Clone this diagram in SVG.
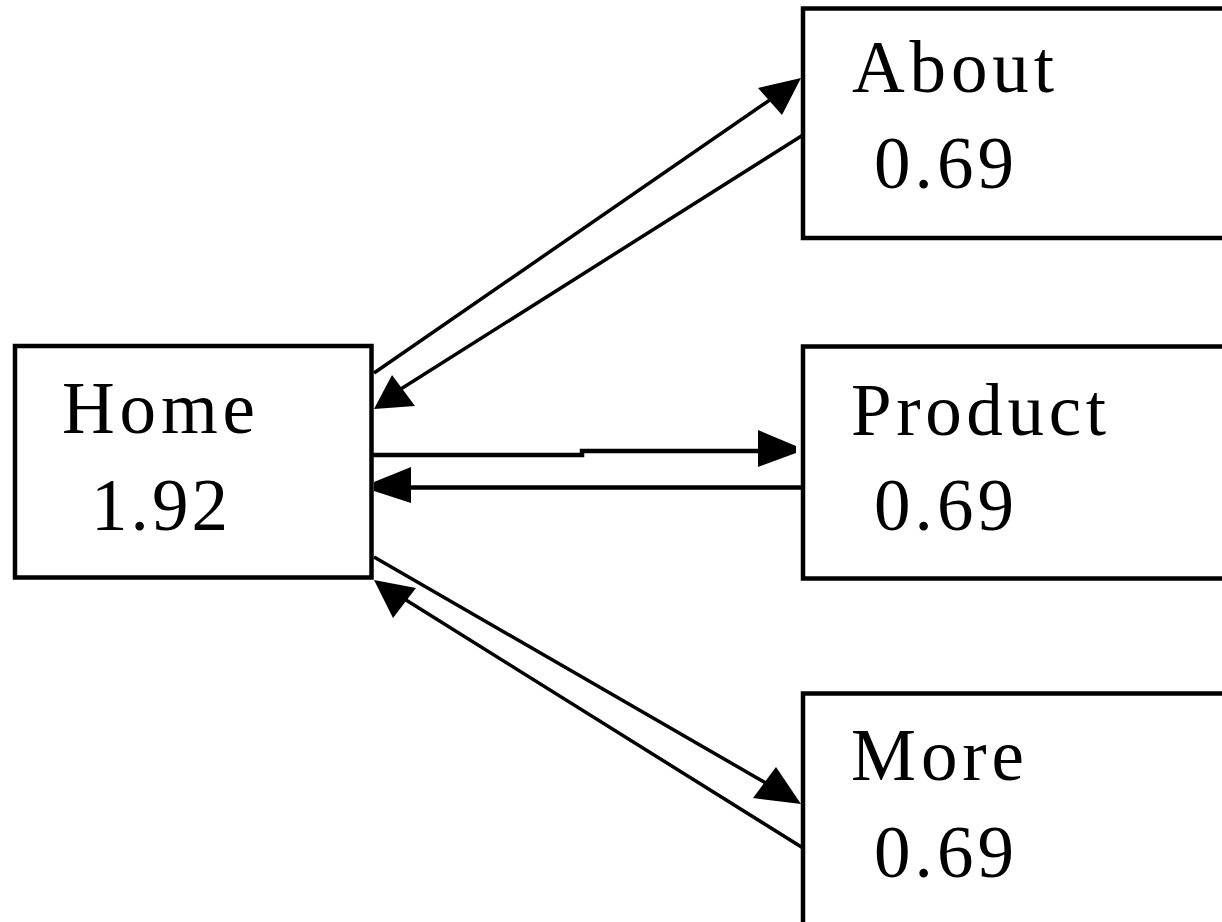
<svg xmlns="http://www.w3.org/2000/svg" width="1222" height="922" viewBox="0 0 1222 922">
  <style>
    .box { fill: #ffffff; stroke: #000000; stroke-width: 4.5; }
    .lbl { font-family: "Liberation Serif", "Times New Roman", serif; font-size: 73px; fill: #000000; }
    .edge { fill: none; stroke: #000000; stroke-width: 3.5; }
    .edge-h { fill: none; stroke: #000000; stroke-width: 4.5; }
    .head { fill: #000000; stroke: none; }
  </style>
  <rect width="1222" height="922" fill="#ffffff"/>

  <!-- pages -->
  <g id="home">
    <rect class="box" x="15" y="346" width="356.5" height="231.5"/>
    <text class="lbl" x="62" y="433" textLength="193" lengthAdjust="spacing">Home</text>
    <text class="lbl" x="91" y="530" textLength="137" lengthAdjust="spacing">1.92</text>
  </g>
  <g id="about">
    <rect class="box" x="803" y="8.5" width="440" height="229.5"/>
    <text class="lbl" x="852" y="92" textLength="202" lengthAdjust="spacing">About</text>
    <text class="lbl" x="874" y="188" textLength="140" lengthAdjust="spacing">0.69</text>
  </g>
  <g id="product">
    <rect class="box" x="803" y="346.5" width="440" height="232"/>
    <text class="lbl" x="851" y="435" textLength="255" lengthAdjust="spacing">Product</text>
    <text class="lbl" x="874" y="530" textLength="140" lengthAdjust="spacing">0.69</text>
  </g>
  <g id="more">
    <rect class="box" x="803" y="693.5" width="440" height="260"/>
    <text class="lbl" x="851" y="780" textLength="173" lengthAdjust="spacing">More</text>
    <text class="lbl" x="874" y="877" textLength="140" lengthAdjust="spacing">0.69</text>
  </g>

  <!-- links between pages -->
  <g id="connectors">
    <!-- Home -> About -->
    <line class="edge" x1="374" y1="373" x2="790" y2="86"/>
    <polygon class="head" points="758,88 801,78 782,115"/>
    <!-- About -> Home -->
    <line class="edge" x1="803" y1="135" x2="385" y2="399"/>
    <polygon class="head" points="392,375 374,409 415,406"/>

    <!-- Home -> Product -->
    <polyline class="edge-h" points="373,455 582,455 582,451 760,451"/>
    <polygon class="head" points="758,430 758,467 796,453 796,446"/>
    <!-- Product -> Home -->
    <line class="edge-h" x1="803" y1="487.5" x2="405" y2="487.5"/>
    <polygon class="head" points="411,467 411,503 374,491 374,482"/>

    <!-- Home -> More -->
    <line class="edge" x1="374" y1="557" x2="790" y2="797"/>
    <polygon class="head" points="776,767 753,798 801,804"/>
    <!-- More -> Home -->
    <line class="edge" x1="803" y1="848" x2="390" y2="590"/>
    <polygon class="head" points="374,580 416,588 393,618"/>
  </g>
</svg>
